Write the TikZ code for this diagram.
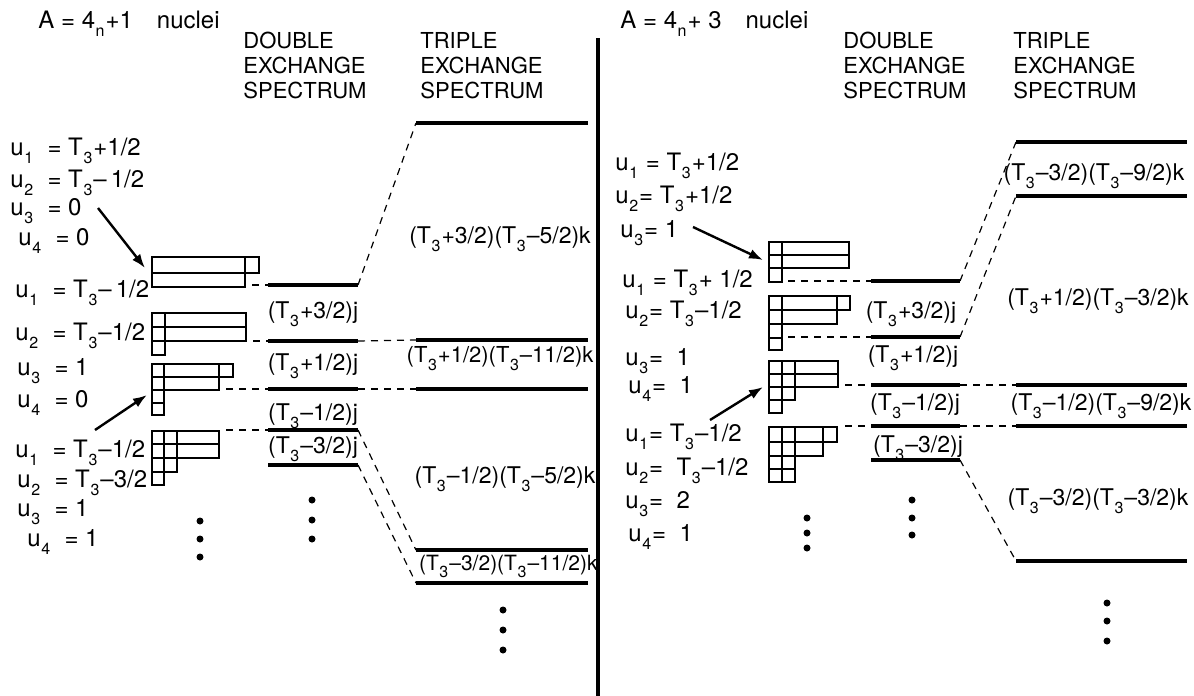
\documentclass[tikz,border=0pt]{standalone}
\usepackage{fontspec}
\setmainfont{TeX Gyre Heros}
\usetikzlibrary{arrows.meta, positioning}
\newcommand{\lo}[1]{\kern0.3pt\raisebox{-0.7ex}{\fontsize{8}{8}\selectfont #1}\kern0.5pt}

\begin{document}
\begin{tikzpicture}[
  x=0.5pt, y=-0.5pt,
  txt/.style={font=\fontsize{11}{12}\selectfont, inner sep=0pt},
  ulbl/.style={txt, font=\fontsize{12}{13}\selectfont, anchor=base west},
  elbl/.style={txt, font=\fontsize{11.5}{13}\selectfont, anchor=base},
  head/.style={txt, anchor=base west, align=left},
  lvl/.style={line width=1.6pt},
  yb/.style={line width=0.8pt},
  conn/.style={line width=0.6pt, dash pattern=on 3.5pt off 3pt},
  arr/.style={-{Latex[length=7pt,width=5pt]}, line width=1.2pt},
  dot/.style={circle, fill, inner sep=0pt, minimum size=3.5pt}
]
\useasboundingbox (0,0) rectangle (1194,696);

% divider
\coordinate (divt) at (598,38);
\coordinate (divb) at (598,696);
\draw[line width=2pt] (divt) -- (divb);

%% ---------- A = 4n+1 ----------
\node[head, font=\fontsize{12}{13}\selectfont] (titA) at (38,28) {A = 4\lo{n}+1\quad nuclei};
\node[head] (dhA) at (243,48) {DOUBLE};
\node[head, below=12.5pt of dhA.base west, anchor=base west] (dhA2) {EXCHANGE};
\node[head, below=12.5pt of dhA2.base west, anchor=base west] (dhA3) {SPECTRUM};
\node[head] (thA) at (420,48) {TRIPLE};
\node[head, below=12.5pt of thA.base west, anchor=base west] (thA2) {EXCHANGE};
\node[head, below=12.5pt of thA2.base west, anchor=base west] (thA3) {SPECTRUM};

% u labels
\node[ulbl] (ua1) at (10,155) {u\lo{1}\ \ = T\lo{3}+1/2};
\node[ulbl] (ua2) at (10,187) {u\lo{2}\ \ = T\lo{3}--\,1/2};
\node[ulbl] (ua3) at (10,215) {u\lo{3}\ \ = 0};
\node[ulbl] (ua4) at (18,245) {u\lo{4}\ \ = 0};
\node[ulbl] (ub1) at (15,297) {u\lo{1}\ \ = T\lo{3}--\,1/2};
\node[ulbl] (ub2) at (15,340) {u\lo{2}\ \ = T\lo{3}--1/2};
\node[ulbl] (ub3) at (17,375) {u\lo{3}\ \ = 1};
\node[ulbl] (ub4) at (17,407) {u\lo{4}\ \ = 0};
\node[ulbl] (uc1) at (15,457) {u\lo{1}\ \ = T\lo{3}--1/2};
\node[ulbl] (uc2) at (17,487) {u\lo{2}\ \ = T\lo{3}--3/2};
\node[ulbl] (uc3) at (17,516) {u\lo{3}\ \ = 1};
\node[ulbl] (uc4) at (27,546) {u\lo{4}\ \ = 1};

% Young diagrams
\foreach \a/\b/\c/\d in {152/257/245/273, 245/257/259/273, 152/273/245/287,
    152/313/165/327, 165/313/246/327, 152/327/165/341, 165/327/246/341, 152/341/165/355,
    152/364/164/377, 164/364/219/377, 219/364/233/377, 152/377/164/390, 164/377/219/390,
    152/390/164/403, 152/403/164/415,
    152/431/164/444, 164/431/177/444, 177/431/219/444, 152/444/164/458, 164/444/177/458,
    177/444/219/458, 152/458/164/472, 164/458/177/472, 152/472/164/485}
  \draw[yb] (\a,\b) rectangle (\c,\d);

\coordinate (a1s) at (98,208);
\coordinate (a1e) at (145,268);
\coordinate (a2s) at (95,430);
\coordinate (a2e) at (147,395);
\draw[arr] (a1s) -- (a1e);
\draw[arr] (a2s) -- (a2e);

% double exchange levels
\foreach \n/\y in {1/285, 2/341, 3/389, 4/430, 5/465} {
  \coordinate (dA\n w) at (268,\y);
  \coordinate (dA\n e) at (358,\y);
  \draw[lvl] (dA\n w) -- (dA\n e);
}
% triple exchange levels
\foreach \n/\y in {1/123, 2/340, 3/389, 4/550, 5/583} {
  \coordinate (tA\n w) at (416,\y);
  \coordinate (tA\n e) at (588,\y);
  \draw[lvl] (tA\n w) -- (tA\n e);
}
\coordinate (yA1) at (252,285);
\coordinate (yA2) at (253,341);
\coordinate (yA3) at (226,389);
\coordinate (yA4) at (226,430);
\draw[conn] (yA1) -- (dA1w);
\draw[conn] (yA2) -- (dA2w);
\draw[conn] (yA3) -- (dA3w);
\draw[conn] (yA4) -- (dA4w);
\draw[conn] (dA1e) -- (tA1w);
\draw[conn] (dA2e) -- (tA2w);
\draw[conn] (dA3e) -- (tA3w);
\draw[conn] (dA4e) -- (tA4w);
\draw[conn] (dA5e) -- (tA5w);

\node[elbl] (jA1) at (313,318) {(T\lo{3}+3/2)j};
\node[elbl] (jA2) at (313,370) {(T\lo{3}+1/2)j};
\node[elbl] (jA3) at (313,420) {(T\lo{3}--1/2)j};
\node[elbl] (jA4) at (313,453) {(T\lo{3}--3/2)j};
\node[elbl] (kA1) at (500,243) {(T\lo{3}+3/2)(T\lo{3}--5/2)k};
\node[elbl, font=\fontsize{11}{12}\selectfont] (kA2) at (500,362) {(T\lo{3}+1/2)(T\lo{3}--11/2)k};
\node[elbl] (kA3) at (505,483) {(T\lo{3}--1/2)(T\lo{3}--5/2)k};
\node[elbl, font=\fontsize{10.5}{12}\selectfont, anchor=base east] (kA4) at (598,570)
    {(T\lo{3}--3/2)(T\lo{3}--11/2)k};

\foreach \x/\y [count=\i] in {200/521, 200/539, 200/557, 312/500, 312/520, 312/539,
    503/610, 503/630, 503/650}
  \node[dot] (pA\i) at (\x,\y) {};

%% ---------- A = 4n+3 ----------
\node[head, font=\fontsize{12}{13}\selectfont] (titB) at (620,28) {A = 4\lo{n}+ 3\quad nuclei};
\node[head] (dhB) at (843,48) {DOUBLE};
\node[head, below=12.5pt of dhB.base west, anchor=base west] (dhB2) {EXCHANGE};
\node[head, below=12.5pt of dhB2.base west, anchor=base west] (dhB3) {SPECTRUM};
\node[head] (thB) at (1013,48) {TRIPLE};
\node[head, below=12.5pt of thB.base west, anchor=base west] (thB2) {EXCHANGE};
\node[head, below=12.5pt of thB2.base west, anchor=base west] (thB3) {SPECTRUM};

\node[ulbl] (va1) at (615,170) {u\lo{1}\ = T\lo{3}+1/2};
\node[ulbl] (va2) at (615,203) {u\lo{2} = T\lo{3}+1/2};
\node[ulbl] (va3) at (620,237) {u\lo{3} = 1};
\node[ulbl] (vb1) at (622,287) {u\lo{1}\ = T\lo{3} + 1/2};
\node[ulbl] (vb2) at (625,318) {u\lo{2} = T\lo{3} --1/2};
\node[ulbl] (vb3) at (625,365) {u\lo{3} = \ 1};
\node[ulbl] (vb4) at (628,393) {u\lo{4} = \ 1};
\node[ulbl] (vc1) at (625,441) {u\lo{1} = T\lo{3}--1/2};
\node[ulbl] (vc2) at (625,475) {u\lo{2}= \ T\lo{3} --1/2};
\node[ulbl] (vc3) at (625,508) {u\lo{3} = \ 2};
\node[ulbl] (vc4) at (628,541) {u\lo{4} = \ 1};

\foreach \a/\b/\c/\d in {769/242/782/255, 782/242/849/255, 769/255/782/268, 782/255/849/268,
    769/268/782/282,
    769/296/782/310, 782/296/837/310, 837/296/850/310, 769/310/782/324, 782/310/837/324,
    769/324/782/338, 769/338/782/350,
    769/361/782/374, 782/361/795/374, 795/361/838/374, 769/374/782/387, 782/374/795/387,
    795/374/838/387, 769/387/782/400, 782/387/795/400, 769/400/782/413,
    769/427/782/442, 782/427/795/442, 795/427/823/442, 823/427/837/442,
    769/442/782/456, 782/442/795/456, 795/442/823/456,
    769/456/782/469, 782/456/795/469, 769/469/782/482, 782/469/795/482}
  \draw[yb] (\a,\b) rectangle (\c,\d);

\coordinate (b1s) at (693,227);
\coordinate (b1e) at (763,260);
\coordinate (b2s) at (710,420);
\coordinate (b2e) at (763,387);
\draw[arr] (b1s) -- (b1e);
\draw[arr] (b2s) -- (b2e);

\foreach \n/\y in {1/281, 2/337, 3/385, 4/426, 5/460} {
  \coordinate (dB\n w) at (871,\y);
  \coordinate (dB\n e) at (960,\y);
  \draw[lvl] (dB\n w) -- (dB\n e);
}
\foreach \n/\y in {1/142, 2/196, 3/385, 4/426, 5/561} {
  \coordinate (tB\n w) at (1016,\y);
  \coordinate (tB\n e) at (1187,\y);
  \draw[lvl] (tB\n w) -- (tB\n e);
}
\coordinate (yB1) at (788,281);
\coordinate (yB2) at (788,337);
\coordinate (yB3) at (845,385);
\coordinate (yB4) at (845,426);
\draw[conn] (yB1) -- (dB1w);
\draw[conn] (yB2) -- (dB2w);
\draw[conn] (yB3) -- (dB3w);
\draw[conn] (yB4) -- (dB4w);
\draw[conn] (dB1e) -- (tB1w);
\draw[conn] (dB2e) -- (tB2w);
\draw[conn] (dB3e) -- (tB3w);
\draw[conn] (dB4e) -- (tB4w);
\draw[conn] (dB5e) -- (tB5w);

\node[elbl] (jB1) at (911,318) {(T\lo{3}+3/2)j};
\node[elbl] (jB2) at (913,362) {(T\lo{3}+1/2)j};
\node[elbl] (jB3) at (915,410) {(T\lo{3}--1/2)j};
\node[elbl] (jB4) at (918,452) {(T\lo{3}--3/2)j};
\node[elbl] (kB1) at (1094,180) {(T\lo{3}--3/2)(T\lo{3}--9/2)k};
\node[elbl] (kB2) at (1098,305) {(T\lo{3}+1/2)(T\lo{3}--3/2)k};
\node[elbl] (kB3) at (1101,410) {(T\lo{3}--1/2)(T\lo{3}--9/2)k};
\node[elbl] (kB4) at (1098,505) {(T\lo{3}--3/2)(T\lo{3}--3/2)k};

\foreach \x/\y [count=\i] in {807/518, 807/533, 807/548, 912/500, 912/518, 912/535,
    1107/603, 1107/621, 1107/641}
  \node[dot] (pB\i) at (\x,\y) {};
\end{tikzpicture}
\end{document}
